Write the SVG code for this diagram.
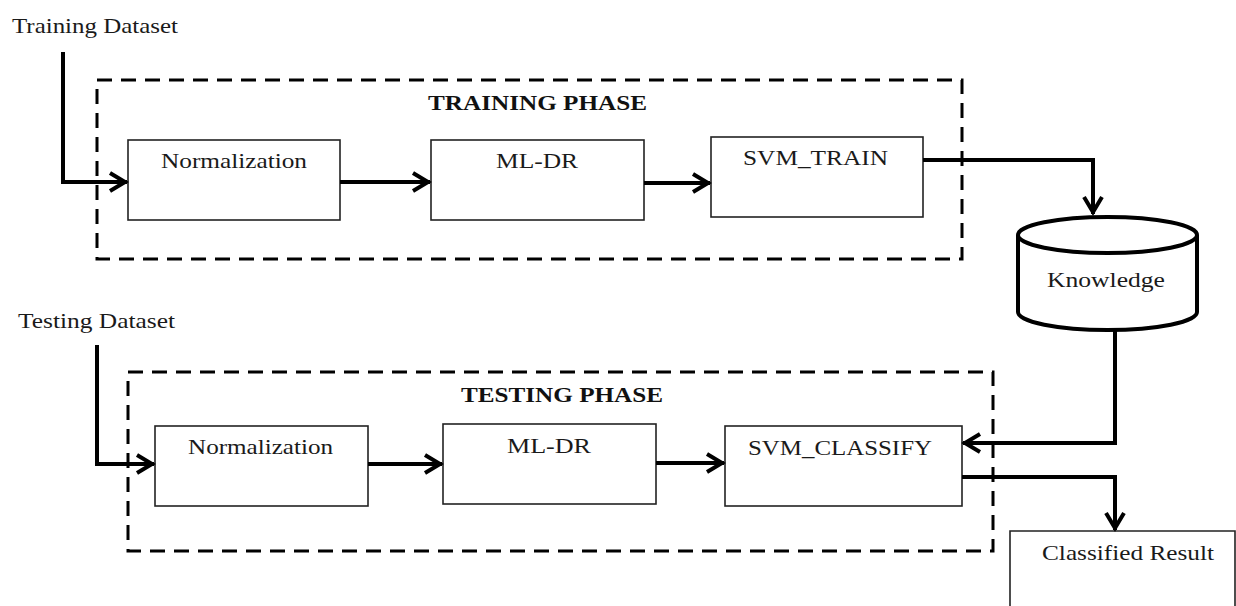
<svg xmlns="http://www.w3.org/2000/svg" width="1236" height="606" viewBox="0 0 1236 606">
<style>
.t{font-family:"Liberation Serif","Times New Roman",serif;font-size:21.5px;fill:#1a1a1a}
.h{font-family:"Liberation Serif","Times New Roman",serif;font-size:22px;font-weight:bold;fill:#111}
.box{fill:#fff;stroke:#222;stroke-width:1.6}
.phase{fill:none;stroke:#000;stroke-width:3;stroke-dasharray:15 9}
.con{fill:none;stroke:#000;stroke-width:4;stroke-linejoin:miter}
.db{fill:#fff;stroke:#000;stroke-width:4}
</style>
<defs>
<marker id="arr" markerUnits="userSpaceOnUse" markerWidth="30" markerHeight="30" viewBox="-24 -15 30 30" refX="0" refY="0" orient="auto" overflow="visible">
<path d="M-17,-9 L-2,0 L-17,9" fill="none" stroke="#000" stroke-width="4" stroke-linejoin="miter"/>
</marker>
</defs>
<rect width="1236" height="606" fill="#fff"/>
<g id="training-phase">
<rect class="phase" x="97" y="80" width="865" height="179"/>
<text class="h" x="428" y="110" textLength="219" lengthAdjust="spacingAndGlyphs">TRAINING PHASE</text>
</g>
<g id="testing-phase">
<rect class="phase" x="128" y="372" width="865" height="179"/>
<text class="h" x="461" y="402" textLength="202" lengthAdjust="spacingAndGlyphs">TESTING PHASE</text>
</g>
<g id="training-dataset"><text class="t" x="12" y="33" textLength="166" lengthAdjust="spacingAndGlyphs">Training Dataset</text></g>
<g id="testing-dataset"><text class="t" x="18" y="328" textLength="157" lengthAdjust="spacingAndGlyphs">Testing Dataset</text></g>
<g id="train-norm"><rect class="box" x="128" y="140" width="212" height="80"/><text class="t" x="161" y="168" textLength="146" lengthAdjust="spacingAndGlyphs">Normalization</text></g>
<g id="train-mldr"><rect class="box" x="431" y="140" width="213" height="80"/><text class="t" x="496" y="168" textLength="82" lengthAdjust="spacingAndGlyphs">ML-DR</text></g>
<g id="svm-train"><rect class="box" x="711" y="137" width="212" height="80"/><text class="t" x="743" y="165" textLength="145" lengthAdjust="spacingAndGlyphs">SVM_TRAIN</text></g>
<g id="test-norm"><rect class="box" x="155" y="426" width="213" height="80"/><text class="t" x="188" y="454" textLength="145" lengthAdjust="spacingAndGlyphs">Normalization</text></g>
<g id="test-mldr"><rect class="box" x="443" y="424" width="213" height="80"/><text class="t" x="507" y="453" textLength="84" lengthAdjust="spacingAndGlyphs">ML-DR</text></g>
<g id="svm-classify"><rect class="box" x="725" y="426" width="237" height="80"/><text class="t" x="748" y="455" textLength="184" lengthAdjust="spacingAndGlyphs">SVM_CLASSIFY</text></g>
<g id="knowledge">
<path class="db" d="M1018,235 V312 A89.5,18 0 0 0 1197,312 V235 A89.5,18 0 0 0 1018,235 Z"/>
<path class="db" fill="none" d="M1018,235 A89.5,18 0 0 0 1197,235"/>
<text class="t" x="1047" y="287" textLength="118" lengthAdjust="spacingAndGlyphs">Knowledge</text>
</g>
<g id="classified-result"><path class="box" d="M1010,610 V531 H1235 V610"/><text class="t" x="1042" y="560" textLength="172" lengthAdjust="spacingAndGlyphs">Classified Result</text></g>
<g id="connectors">
<path class="con" marker-end="url(#arr)" d="M63,52 V182 H127"/>
<path class="con" marker-end="url(#arr)" d="M340,182 H430"/>
<path class="con" marker-end="url(#arr)" d="M644,183 H710"/>
<path class="con" marker-end="url(#arr)" d="M923,160 H1093 V214"/>
<path class="con" marker-end="url(#arr)" d="M1115,330 V443 H963"/>
<path class="con" marker-end="url(#arr)" d="M97,345 V464 H154"/>
<path class="con" marker-end="url(#arr)" d="M368,464 H442"/>
<path class="con" marker-end="url(#arr)" d="M656,463 H724"/>
<path class="con" marker-end="url(#arr)" d="M962,477 H1115 V530"/>
</g>
</svg>
